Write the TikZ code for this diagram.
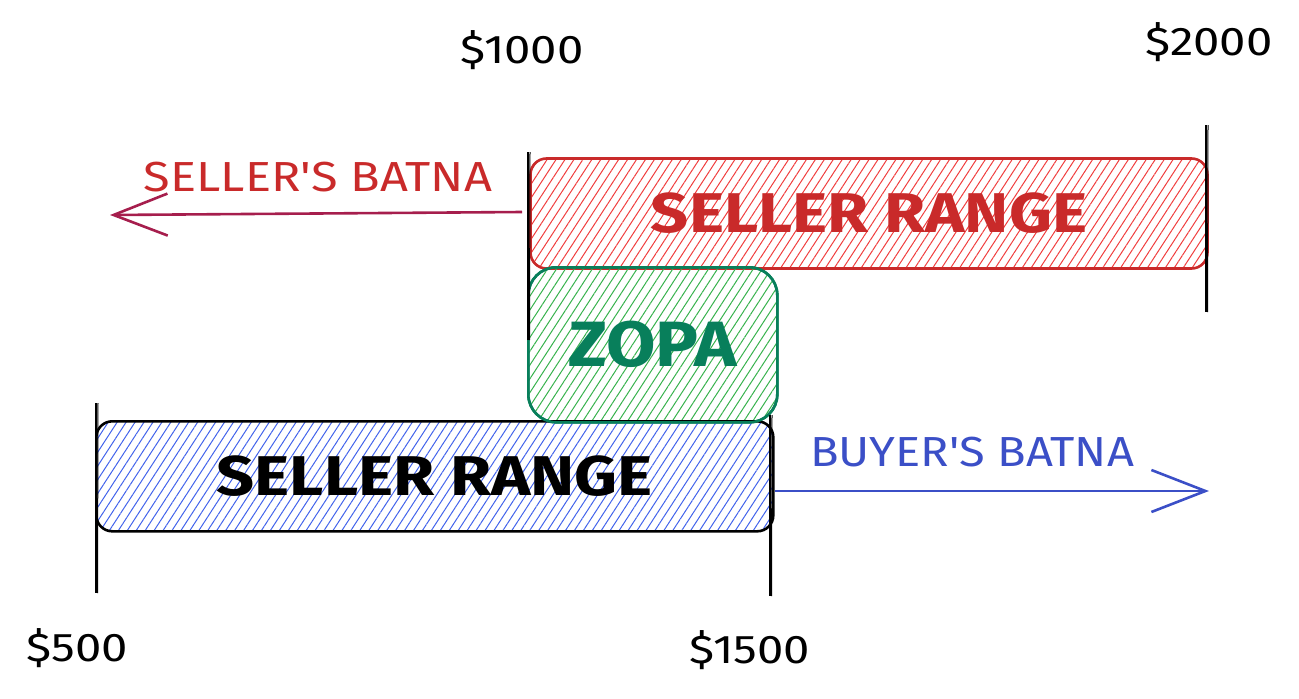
\documentclass[tikz,border=0pt]{standalone}
\usepackage{fontspec}
\setmainfont{Fira Sans}
\usetikzlibrary{patterns.meta,arrows.meta}
\definecolor{redS}{HTML}{C92A2A}
\definecolor{redH}{HTML}{F03E3E}
\definecolor{greenS}{HTML}{087F5B}
\definecolor{greenH}{HTML}{37B24D}
\definecolor{blueH}{HTML}{4263EB}
\definecolor{blueT}{HTML}{3B4FC7}
\definecolor{crim}{HTML}{A61E4D}
\newcommand{\wide}[2]{\scalebox{#1}[1]{#2}}
\tikzset{
  rangebox/.style={draw, line width=2.6pt, rounded corners=16pt, inner sep=0pt, anchor=north west},
  hatch/.style={pattern={Lines[angle=57,distance=7.5pt,line width=1pt]}, pattern color=#1},
  bigtxt/.style={font=\fontsize{56}{56}\selectfont\bfseries},
  midtxt/.style={font=\fontsize{42}{42}\selectfont},
  lbl/.style={font=\fontsize{40}{40}\selectfont},
  tick/.style={line width=1.6pt, black},
  batna/.style={line width=2.6pt, -{Straight Barb[length=54pt, width=42pt, line width=2.6pt]}},
}
\begin{document}
\begin{tikzpicture}[x=1pt, y=-1pt]
\useasboundingbox (0,0) rectangle (1299,699);
% boxes
\node[rangebox, draw=redS, hatch=redH, minimum width=677pt, minimum height=110pt] (red) at (530,158) {};
\node[rangebox, draw=greenS, hatch=greenH, rounded corners=28pt, minimum width=249pt, minimum height=155pt] (zopa) at (527,266) {};
\node[rangebox, draw=black, hatch=blueH, minimum width=677pt, minimum height=110pt] (blue) at (95,420) {};
\node[rangebox, draw=greenS, rounded corners=28pt, minimum width=249pt, minimum height=155pt, fill=none] (zopaedge) at (527,266) {};
% box texts
\node[bigtxt, text=redS] (redtxt) at (red.center) {\wide{1.19}{SELLER RANGE}};
\node[bigtxt, text=greenS, font=\fontsize{64}{64}\selectfont\bfseries] (zopatxt) at (zopa.center) {\wide{1.12}{ZOPA}};
\node[bigtxt, text=black] (bluetxt) at (blue.center) {\wide{1.19}{SELLER RANGE}};
% ticks
\coordinate (t1a) at (528,152); \coordinate (t1b) at (528,340);
\coordinate (t2a) at (1206,125); \coordinate (t2b) at (1206,312);
\coordinate (t3a) at (96,403); \coordinate (t3b) at (96,593);
\coordinate (t4a) at (770,415); \coordinate (t4b) at (770,596);
\foreach \a/\b in {t1a/t1b,t2a/t2b,t3a/t3b,t4a/t4b}{
  \draw[tick] (\a) -- (\b);
  \draw[tick, line width=1pt] ([xshift=2pt]\a) -- ([xshift=1.5pt]\b);
}
% BATNA arrows
\coordinate (sbs) at (522,212);
\coordinate (sbe) at (110,215);
\draw[batna, crim] (sbs) -- (sbe);
\node[midtxt, text=redS] (sbt) at (318,177) {\wide{1.16}{SELLER\textquotesingle S BATNA}};
\coordinate (bbs) at (775,491);
\coordinate (bbe) at (1209,491);
\draw[batna, blueT] (bbs) -- (bbe);
\node[midtxt, text=blueT] (bbt) at (972,452) {\wide{1.12}{BUYER\textquotesingle S BATNA}};
% value labels
\node[lbl] (v1000) at (522,50) {\wide{1.18}{\$1000}};
\node[lbl] (v2000) at (1209,42) {\wide{1.18}{\$2000}};
\node[lbl] (v500) at (77,648) {\wide{1.18}{\$500}};
\node[lbl] (v1500) at (750,650) {\wide{1.18}{\$1500}};
\end{tikzpicture}
\end{document}
